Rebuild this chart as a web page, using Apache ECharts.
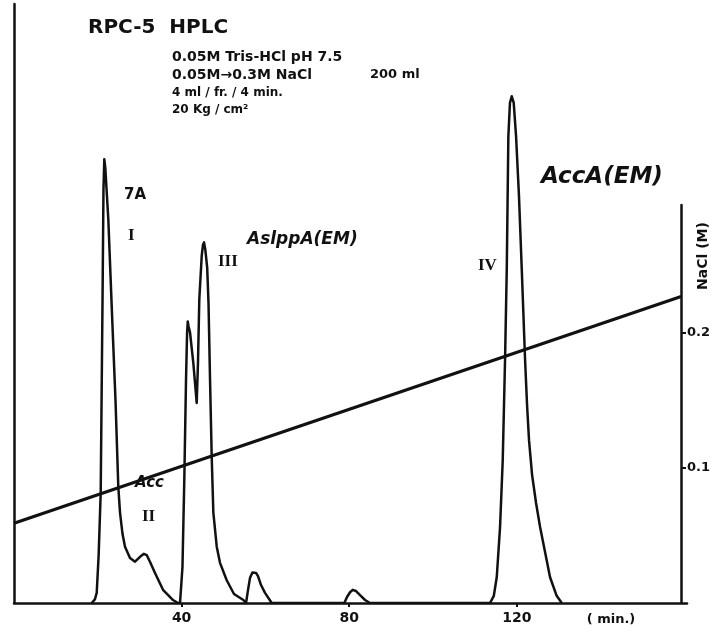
<!DOCTYPE html>
<html>
<head>
<meta charset="utf-8">
<script src="https://cdn.jsdelivr.net/npm/echarts@6/dist/echarts.min.js"></script>
<style>
  html, body { margin: 0; padding: 0; background: #fff; }
  #chart { width: 717px; height: 635px; }
</style>
</head>
<body>
<div id="chart"></div>
<script>
  // elution time (min) and absorbance (relative)
  const traceTime = [
    18.54, 19.30, 19.74, 20.20, 20.69, 21.17, 21.35, 21.55, 21.80, 22.51, 23.46, 24.22, 24.89,
    25.30, 25.90, 26.49, 27.68, 28.88, 30.20, 31.00, 31.67, 32.50, 33.65, 35.56, 37.95, 39.14,
    39.62, 40.20, 40.64, 41.05, 41.30, 41.46, 41.65, 42.00, 42.79, 43.60, 43.90, 44.22, 44.80,
    45.10, 45.35, 45.65, 46.10, 46.42, 46.78, 47.18, 47.57, 48.38, 49.16, 50.76, 52.50, 54.73, 55.37,
    55.85, 56.32, 56.90, 57.35, 57.80, 58.23, 58.95, 59.90, 61.50,
    78.83, 79.47, 80.19, 80.83, 81.62, 82.58, 83.77, 84.96,
    113.60, 114.50, 115.20, 115.99, 116.63, 117.18, 117.59, 117.97, 118.35, 118.78, 119.25,
    119.81, 120.50, 121.17, 121.96, 122.43, 122.91, 123.63, 124.58, 125.54, 127.92, 129.50, 130.72
  ];
  const traceAbs = [
    0, 0.006, 0.017, 0.080, 0.184, 0.540, 0.690, 0.741, 0.725, 0.640, 0.470, 0.339, 0.194,
    0.151, 0.115, 0.094, 0.075, 0.069, 0.078, 0.082, 0.080, 0.068, 0.050, 0.022, 0.005, 0,
    0, 0.060, 0.206, 0.373, 0.450, 0.470, 0.462, 0.452, 0.401, 0.334, 0.400, 0.507, 0.580,
    0.598, 0.602, 0.590, 0.560, 0.500, 0.373, 0.244, 0.151, 0.094, 0.067, 0.038, 0.015, 0.005, 0,
    0.022, 0.042, 0.051, 0.052, 0.050, 0.045, 0.030, 0.017, 0,
    0, 0.010, 0.018, 0.022, 0.020, 0.013, 0.005, 0,
    0, 0.012, 0.043, 0.127, 0.239, 0.406, 0.557, 0.779, 0.835, 0.846, 0.835,
    0.779, 0.680, 0.557, 0.406, 0.331, 0.271, 0.214, 0.167, 0.127, 0.043, 0.012, 0
  ];

  // NaCl gradient (M)
  const gradTime = [0, 159.2];
  const gradNaCl = [0.059, 0.227];

  const timeTicks = [40, 80, 120];
  const naclTicks = [0.1, 0.2];

  const ink = '#111';
  const lettering = '"DejaVu Sans"';

  let myChart = echarts.init(document.getElementById('chart'));

  function pairs(xs, ys) {
    return xs.map((x, i) => [x, ys[i]]);
  }

  function label(text, x, y, font, extra) {
    return Object.assign({
      type: 'text', x: x, y: y, silent: true,
      style: { text: text, font: font, fill: ink, verticalAlign: 'middle' }
    }, extra || {});
  }

  myChart.setOption({
    animation: false,
    backgroundColor: '#fff',
    grid: [
      { left: 14, top: 4, width: 673, height: 599 },   // chromatogram
      { left: 681, top: 205, width: 1, height: 398 }   // NaCl axis
    ],
    xAxis: [
      {
        gridIndex: 0, type: 'value', min: 0, max: 160.6,
        axisLine: { lineStyle: { color: ink, width: 2.5 } },
        axisTick: { customValues: timeTicks, length: 4, lineStyle: { color: ink, width: 2 } },
        axisLabel: {
          customValues: timeTicks, margin: 8, color: ink,
          fontFamily: lettering, fontWeight: 'bold', fontSize: 14
        },
        splitLine: { show: false }
      },
      { gridIndex: 1, type: 'value', min: 0, max: 1, show: false }
    ],
    yAxis: [
      {
        gridIndex: 0, type: 'value', min: 0, max: 1,
        axisLine: { show: true, lineStyle: { color: ink, width: 2.5 } },
        axisTick: { show: false }, axisLabel: { show: false }, splitLine: { show: false }
      },
      {
        // same NaCl scale as the right axis, stretched over the full plot height
        gridIndex: 0, type: 'value', min: 0, max: 0.2948 * 599 / 398, show: false
      },
      {
        gridIndex: 1, type: 'value', min: 0, max: 0.2948, position: 'left',
        axisLine: { show: true, lineStyle: { color: ink, width: 2.5 } },
        axisTick: { inside: true, customValues: naclTicks, length: 5, lineStyle: { color: ink, width: 2 } },
        axisLabel: {
          inside: true, customValues: naclTicks, margin: 6, color: ink,
          fontFamily: lettering, fontWeight: 'bold', fontSize: 13
        },
        splitLine: { show: false }
      }
    ],
    series: [
      {
        name: 'A260', type: 'line', xAxisIndex: 0, yAxisIndex: 0,
        data: pairs(traceTime, traceAbs),
        showSymbol: false, smooth: false,
        lineStyle: { color: ink, width: 2.5, join: 'round' }
      },
      {
        name: 'NaCl', type: 'line', xAxisIndex: 0, yAxisIndex: 1,
        data: pairs(gradTime, gradNaCl),
        showSymbol: false,
        lineStyle: { color: ink, width: 3.2 }
      }
    ],
    graphic: [
      label('RPC-5  HPLC', 88, 28, 'bold 20px ' + lettering),
      label('0.05M Tris-HCl pH 7.5', 172, 57, 'bold 14px ' + lettering),
      label('0.05M→0.3M NaCl', 172, 75, 'bold 14px ' + lettering),
      label('200 ml', 370, 75, 'bold 13px ' + lettering),
      label('4 ml / fr. / 4 min.', 172, 93, 'bold 12px ' + lettering),
      label('20 Kg / cm²', 172, 110, 'bold 12px ' + lettering),
      label('( min.)', 611, 620, 'bold 13px ' + lettering, {
        style: { text: '( min.)', font: 'bold 13px ' + lettering, fill: ink, align: 'center', verticalAlign: 'middle' }
      }),
      label('NaCl (M)', 703, 256, 'bold 14px ' + lettering, {
        rotation: Math.PI / 2,
        style: { text: 'NaCl (M)', font: 'bold 14px ' + lettering, fill: ink, align: 'center', verticalAlign: 'middle' }
      }),
      label('7A', 124, 195, 'bold 15px ' + lettering),
      label('I', 128, 236, 'bold 17px "Liberation Serif"'),
      label('III', 218, 262, 'bold 17px "Liberation Serif"'),
      label('AslppA(EM)', 247, 240, 'bold italic 17px ' + lettering),
      label('Acc', 135, 483, 'bold italic 15px ' + lettering),
      label('II', 142, 517, 'bold 17px "Liberation Serif"'),
      label('IV', 478, 266, 'bold 17px "Liberation Serif"'),
      label('AccA(EM)', 541, 177, 'bold italic 23px ' + lettering)
    ]
  });
</script>
</body>
</html>
